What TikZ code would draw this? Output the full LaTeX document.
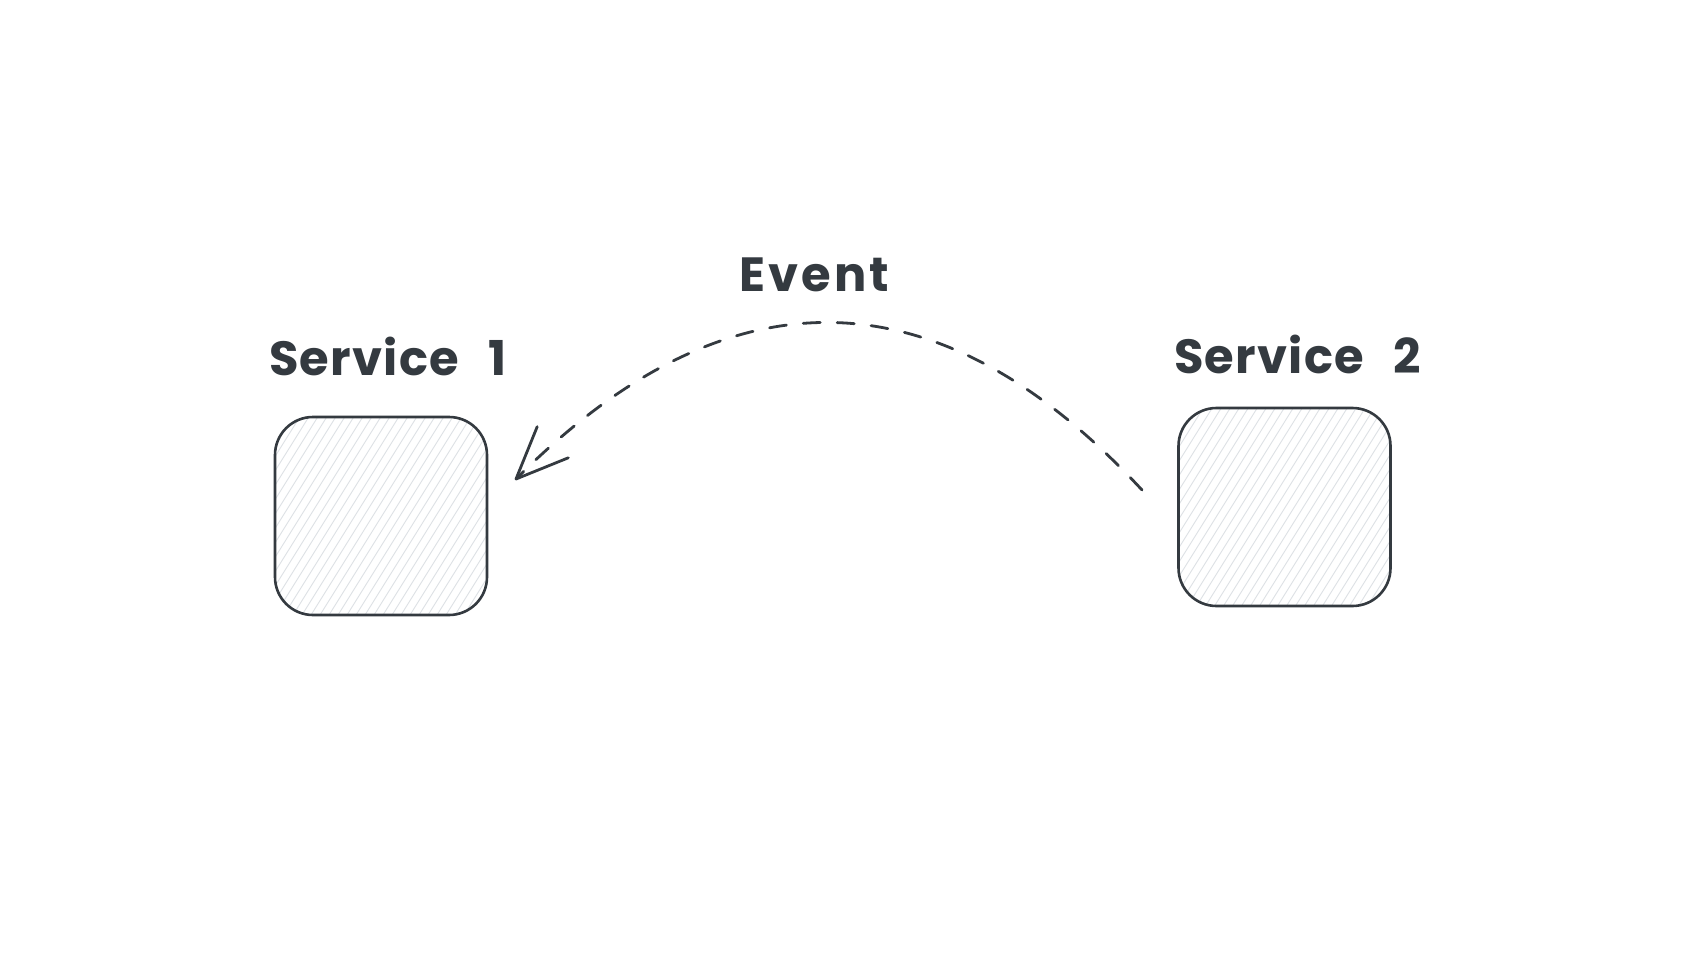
\documentclass[tikz,border=0pt]{standalone}
\usepackage{fontspec}
\setmainfont{Poppins}
\newfontfamily\labelfont{Poppins}[LetterSpace=2.5, WordSpace=2.6]
\newfontfamily\eventfont{Poppins}[LetterSpace=6.5]
\usetikzlibrary{arrows.meta,calc}
\definecolor{ink}{HTML}{343A40}
\definecolor{hatch}{HTML}{DDE1E5}
\tikzset{
  svc/.style={draw=ink, line width=2.6pt, rounded corners=38pt,
    minimum width=212pt, minimum height=198pt, inner sep=0pt,
    path picture={
      \foreach \k in {-40,...,40}
        \draw[hatch, line width=0.9pt]
          ($(path picture bounding box.south west)+(\k*9pt,0pt)$) -- ++(58:420pt);
    }},
  lbl/.style={text=ink, font=\labelfont\bfseries\fontsize{48}{50}\selectfont,
    anchor=base west, inner sep=0pt},
  evlbl/.style={lbl, font=\eventfont\bfseries\fontsize{48}{50}\selectfont},
  flow/.style={draw=ink, line width=2.8pt, line cap=round,
    dash pattern=on 17pt off 17pt,
    -{Straight Barb[length=52pt, width=44pt, line width=2.8pt, round]}}
}
\begin{document}
\begin{tikzpicture}[x=1pt, y=-1pt]
  \useasboundingbox (0,0) rectangle (1704,961);
  \fill[white] (0,0) rectangle (1704,961);

  % the two services
  \node[svc] (s1) at (381,516) {};
  \node[svc] (s2) at (1284.5,507) {};

  % their captions
  \node[lbl] (t1) at (269,375) {Service 1};
  \node[lbl] (t2) at (1174,373) {Service 2};
  \node[evlbl] (tev) at (739,291) {Event};

  % event sent from service 2 to service 1
  \coordinate (src) at (1142,490);
  \coordinate (dst) at (515,480);
  \draw[flow] (src) .. controls (914,244) and (701,294) .. (dst);
\end{tikzpicture}
\end{document}
